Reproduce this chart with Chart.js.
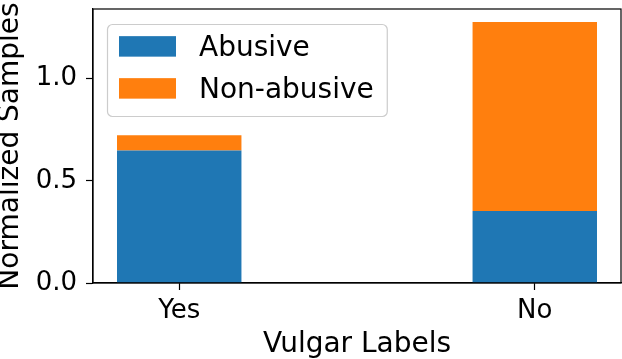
<!DOCTYPE html>
<html>
<head>
<meta charset="utf-8">
<script src="https://cdn.jsdelivr.net/npm/chart.js@4"></script>
<style>
  html, body { margin: 0; padding: 0; background: #fff; }
  #wrap { width: 622px; height: 359px; }
</style>
</head>
<body>
<div id="wrap"><canvas id="chart" width="622" height="359"></canvas></div>
<script>
const categories = ['Yes', 'No'];
const abusive = [0.648, 0.352];
const nonAbusive = [0.075, 0.925];
const yTickValues = [0, 0.5, 1.0];
const seriesNames = ['Abusive', 'Non-abusive'];

const FONT = '"DejaVu Sans", sans-serif';

// matplotlib style: 5% margin above the tallest stack
const totals = categories.map((c, i) => abusive[i] + nonAbusive[i]);
const yMax = Math.max(...totals) * 1.05;

// legend drawn inside the axes, like matplotlib's upper-left legend
const insideLegend = {
    id: 'insideLegend',
    afterDraw(chart) {
        const { ctx, chartArea } = chart;
        ctx.save();
        ctx.font = '28px ' + FONT;
        const items = chart.data.datasets.map(d => ({ label: d.label, color: d.backgroundColor }));
        const textW = Math.max(...items.map(it => ctx.measureText(it.label).width));
        const x0 = chartArea.left + 14;
        const y0 = chartArea.top + 15;
        const boxW = 57, boxH = 20.5, rowH = 42;
        const w = 12 + boxW + 23 + textW + 13;
        const h = 92;

        ctx.beginPath();
        ctx.roundRect(x0 + 0.5, y0 + 0.5, w, h, 5);
        ctx.fillStyle = 'rgba(255,255,255,0.8)';
        ctx.fill();
        ctx.strokeStyle = '#cccccc';
        ctx.lineWidth = 1.2;
        ctx.stroke();

        items.forEach((it, i) => {
            const cy = y0 + 22.4 + i * rowH;
            ctx.fillStyle = it.color;
            ctx.fillRect(x0 + 12, cy - boxH / 2, boxW, boxH);
            ctx.fillStyle = '#000';
            ctx.textBaseline = 'alphabetic';
            ctx.textAlign = 'left';
            ctx.fillText(it.label, x0 + 12 + boxW + 23, cy + 10);
        });
        ctx.restore();
    }
};

// top and right spines
const frame = {
    id: 'frame',
    afterDatasetsDraw(chart) {
        const { ctx, chartArea } = chart;
        ctx.save();
        ctx.strokeStyle = '#000';
        ctx.lineWidth = 1.2;
        ctx.strokeRect(chartArea.left, chartArea.top, chartArea.right - chartArea.left, chartArea.bottom - chartArea.top);
        ctx.restore();
    }
};

const ctx = document.getElementById('chart').getContext('2d');
new Chart(ctx, {
    type: 'bar',
    data: {
        datasets: [{
            label: seriesNames[0],
            data: categories.map((c, i) => ({ x: i, y: abusive[i] })),
            backgroundColor: '#1f77b4',
            borderWidth: 0,
        }, {
            label: seriesNames[1],
            data: categories.map((c, i) => ({ x: i, y: nonAbusive[i] })),
            backgroundColor: '#ff7f0e',
            borderWidth: 0,
        }],
    },
    options: {
        responsive: false,
        animation: false,
        devicePixelRatio: 1,
        barPercentage: 0.35,
        categoryPercentage: 1.0,
        layout: { padding: { top: 9, right: 1, left: 0, bottom: 0 } },
        plugins: {
            legend: { display: false },
            tooltip: { enabled: false },
        },
        scales: {
            x: {
                type: 'linear',
                stacked: true,
                offset: false,
                min: -0.2425,
                max: 1.2425,
                afterBuildTicks: (scale) => {
                    scale.ticks = categories.map((c, i) => ({ value: i }));
                },
                afterFit: (scale) => {
                    scale.height = 76;
                    scale.paddingLeft = 0;
                    scale.paddingRight = 0;
                },
                ticks: {
                    callback: (value) => categories[value],
                    color: '#000',
                    font: { family: FONT, size: 26 },
                    padding: 6,
                    maxRotation: 0,
                },
                grid: { offset: false, drawOnChartArea: false, tickLength: 7, tickColor: '#000', tickWidth: 1.2 },
                border: { display: true, color: '#000', width: 1.2 },
                title: {
                    display: true,
                    text: 'Vulgar Labels',
                    color: '#000',
                    font: { family: FONT, size: 28, lineHeight: 1.0 },
                    padding: 0,
                },
            },
            y: {
                stacked: true,
                min: 0,
                max: yMax,
                afterBuildTicks: (scale) => {
                    scale.ticks = yTickValues.map(v => ({ value: v }));
                },
                afterFit: (scale) => {
                    scale.width = 93;
                    scale.paddingTop = 0;
                    scale.paddingBottom = 0;
                },
                ticks: {
                    callback: (value) => value.toFixed(1),
                    color: '#000',
                    font: { family: FONT, size: 26 },
                    padding: 9,
                },
                grid: { drawOnChartArea: false, tickLength: 7, tickColor: '#000', tickWidth: 1.2 },
                border: { display: true, color: '#000', width: 1.2 },
                title: {
                    display: true,
                    text: 'Normalized Samples',
                    color: '#000',
                    font: { family: FONT, size: 28, lineHeight: 0.8 },
                    padding: 0,
                },
            },
        },
    },
    plugins: [insideLegend, frame],
});
</script>
</body>
</html>
